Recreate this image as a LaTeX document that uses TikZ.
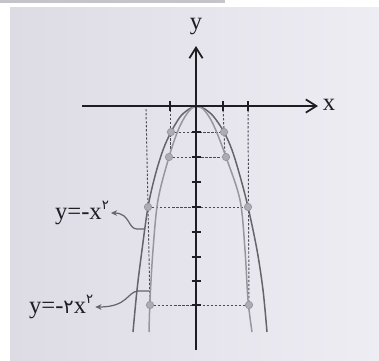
\documentclass[tikz,border=0pt]{standalone}
\usepackage{fontspec}
\setmainfont{Liberation Serif}
\newfontfamily\pfont{DejaVu Sans}
\usetikzlibrary{arrows.meta}
\definecolor{pagebgL}{RGB}{221,220,229}
\definecolor{pagebgR}{RGB}{238,237,244}
\definecolor{bandgray}{RGB}{196,196,201}
\definecolor{axisc}{RGB}{30,30,34}
\definecolor{outerc}{RGB}{100,100,106}
\definecolor{innerc}{RGB}{150,150,156}
\definecolor{dashc}{RGB}{75,75,82}
\definecolor{ptc}{RGB}{172,172,178}
\newcommand{\supptwo}{\raisebox{0.85ex}{\fontsize{7.5}{8}\selectfont\pfont ۲}}
\tikzset{
  axisline/.style={draw=axisc, line width=1.2pt},
  axistip/.style={-{Straight Barb[length=6pt,width=7.5pt,line width=1pt]}},
  tickline/.style={draw=axisc, line width=0.9pt},
  outercurve/.style={draw=outerc, line width=0.85pt},
  innercurve/.style={draw=innerc, line width=0.85pt},
  guide/.style={draw=dashc, line width=0.55pt, dash pattern=on 1.3pt off 1pt},
  pt/.style={circle, fill=ptc, draw=innerc, line width=0.4pt, inner sep=0pt, minimum size=4.2pt},
  lbl/.style={inner sep=1pt, font=\fontsize{14}{16}\selectfont, text=axisc},
  lblarrow/.style={draw=outerc, line width=0.7pt, -{Stealth[length=3.5pt,width=3.2pt]}}
}
\begin{document}
\begin{tikzpicture}[x=0.02cm,y=-0.02cm]
\useasboundingbox (0,0) rectangle (379,360);
\shade[left color=pagebgL,right color=pagebgR] (10,7) rectangle (379,360);
\fill[bandgray] (0,0) rectangle (225,3);

% guide lines
\draw[guide] (170,106) -- (170,157);
\draw[guide] (223,106) -- (225,157);
\draw[guide] (146,109) -- (148,207) -- (150,305);
\draw[guide] (248,106) -- (249,305);
\draw[guide] (171,132) -- (224,132);
\draw[guide] (169,157) -- (226,157);
\draw[guide] (148,207) -- (248,207);
\draw[guide] (150,305) -- (249,305);

% curves
\draw[outercurve] plot[smooth,tension=0.55] coordinates {(133,332) (137,290) (142,250) (148,207) (155,176) (163,150) (171,132) (180,117) (187,110.5) (192,107.5) (197,106.5) (202,107.5) (207,110.5) (214,117) (224,132) (232,150) (240,176) (248,207) (257,250) (263,290) (267,332)};
\draw[innercurve] plot[smooth,tension=0.55] coordinates {(149,332) (150,300) (153,250) (158,200) (169,157) (177,133) (183,120) (189,111) (193,107.5) (197,106.5) (201,107.5) (205,111) (211,120) (217,133) (226,157) (240,200) (245,250) (248,300) (252,332)};

% axes
\coordinate (xl) at (82,106);
\coordinate (xr) at (318,106);
\coordinate (yb) at (196,350);
\coordinate (yt) at (196,46);
\draw[axisline,axistip] (xl) -- (xr);
\draw[axisline,axistip] (yb) -- (yt);
\node[lbl] (xlab) at (329,105) {x};
\node[lbl] (ylab) at (196,27) {y};

% ticks
\foreach \tx in {170,223,248} \draw[tickline] (\tx,101) -- (\tx,111);
\foreach \ty in {132,157,182,207,232,257,281,305} \draw[tickline] (191.5,\ty) -- (200.5,\ty);

% points
\node[pt] (p1) at (171,132) {};
\node[pt] (p2) at (224,132) {};
\node[pt] (p3) at (169,157) {};
\node[pt] (p4) at (226,157) {};
\node[pt] (p5) at (148,207) {};
\node[pt] (p6) at (248,207) {};
\node[pt] (p7) at (150,305) {};
\node[pt] (p8) at (249,305) {};

% labels
\node[lbl, anchor=west] (lab1) at (53,213) {y=-x\supptwo};
\node[lbl, anchor=west] (lab2) at (27,307) {y=-{\fontsize{11}{12}\selectfont\pfont ۲}x\supptwo};
\coordinate (c1) at (144,229);
\coordinate (c2) at (149,291);
\draw[lblarrow] (c1) -- ++(-7,0) .. controls (128,229) and (130,213) .. (lab1.east);
\draw[lblarrow] (c2) -- ++(-11,0) .. controls (127,292) and (128,307) .. (lab2.east);
\end{tikzpicture}
\end{document}
